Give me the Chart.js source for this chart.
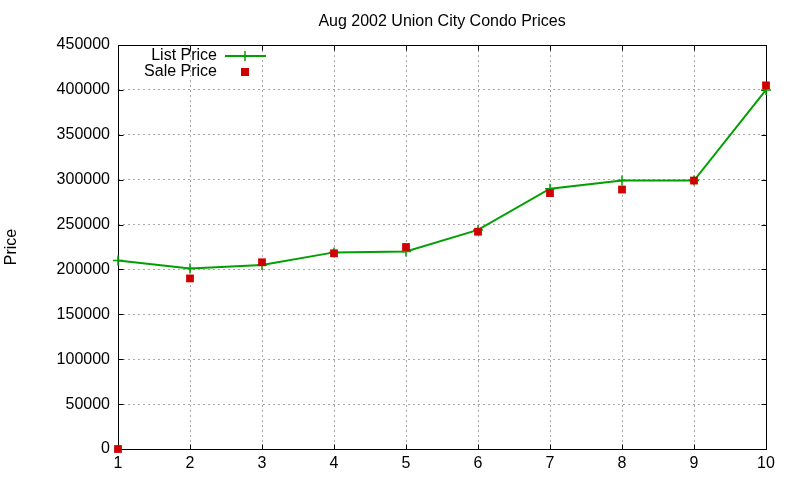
<!DOCTYPE html>
<html>
<head>
<meta charset="utf-8">
<script src="https://cdn.jsdelivr.net/npm/chart.js@4/dist/chart.umd.min.js"></script>
<style>
  html, body { margin: 0; padding: 0; background: #ffffff; }
  #wrap { width: 800px; height: 480px; }
</style>
</head>
<body>
<div id="wrap"><canvas id="c" width="800" height="480"></canvas></div>
<script>
// ---- data ----
const categories = [1, 2, 3, 4, 5, 6, 7, 8, 9, 10];
const listPrice = [210000, 201000, 205000, 219000, 220000, 244000, 290000, 299000, 299000, 400000];
const salePrice = [0, 190000, 208000, 218000, 225000, 242000, 285000, 289000, 299000, 405000];
const yTicks = [0, 50000, 100000, 150000, 200000, 250000, 300000, 350000, 400000, 450000];
const xTicks = [1, 2, 3, 4, 5, 6, 7, 8, 9, 10];
const chartTitle = 'Aug 2002 Union City Condo Prices';
const yTitle = 'Price';
const seriesNames = ['List Price', 'Sale Price'];

const FONT = "'Liberation Sans', Arial, sans-serif";
const GREEN = '#00a000';
const RED = '#d00000';

const framePlugin = {
  id: 'frame',
  beforeDatasetsDraw(chart) {
    const { ctx, chartArea: a, scales } = chart;
    ctx.save();
    ctx.strokeStyle = '#000';
    ctx.lineWidth = 1;
    const L = Math.round(a.left) + 0.5, R = Math.round(a.right) + 0.5;
    const T = Math.round(a.top) + 0.5, B = Math.round(a.bottom) + 0.5;
    ctx.strokeRect(L, T, R - L, B - T);
    const tl = 5;
    ctx.beginPath();
    yTicks.forEach(v => {
      const y = Math.round(scales.y.getPixelForValue(v)) + 0.5;
      ctx.moveTo(L, y); ctx.lineTo(L + tl, y);
      ctx.moveTo(R, y); ctx.lineTo(R - tl, y);
    });
    xTicks.forEach(v => {
      const x = Math.round(scales.x.getPixelForValue(v)) + 0.5;
      ctx.moveTo(x, B); ctx.lineTo(x, B - tl);
      ctx.moveTo(x, T); ctx.lineTo(x, T + tl);
    });
    ctx.stroke();
    ctx.restore();
  },
  afterDraw(chart) {
    const { ctx } = chart;
    const ds = chart.data.datasets;
    ctx.save();
    ctx.font = '16px ' + FONT;
    ctx.fillStyle = '#000';
    ctx.textAlign = 'right';
    ctx.textBaseline = 'middle';
    ctx.fillText(ds[0].label, 217, 56);
    ctx.fillText(ds[1].label, 217, 72);
    // list price sample
    ctx.strokeStyle = ds[0].borderColor;
    ctx.lineWidth = 2;
    ctx.beginPath();
    ctx.moveTo(225, 56); ctx.lineTo(266, 56);
    ctx.stroke();
    ctx.lineWidth = 1.5;
    ctx.beginPath();
    ctx.moveTo(245, 51); ctx.lineTo(245, 61);
    ctx.stroke();
    // sale price sample
    ctx.fillStyle = ds[1].backgroundColor;
    ctx.fillRect(241, 68, 8, 8);
    ctx.restore();
  }
};

new Chart(document.getElementById('c'), {
  type: 'line',
  data: {
    datasets: [
      {
        label: seriesNames[0],
        data: categories.map((c, i) => ({ x: c, y: listPrice[i] })),
        borderColor: GREEN,
        backgroundColor: GREEN,
        borderWidth: 2,
        pointStyle: 'cross',
        pointRadius: 5,
        pointBorderWidth: 1.5,
        pointHoverRadius: 5,
        tension: 0,
        fill: false,
        clip: false,
        order: 1
      },
      {
        label: seriesNames[1],
        data: categories.map((c, i) => ({ x: c, y: salePrice[i] })),
        showLine: false,
        borderColor: RED,
        backgroundColor: RED,
        pointStyle: 'rect',
        pointRadius: 5.5,
        pointBorderWidth: 0,
        pointHoverRadius: 5.5,
        clip: false,
        order: 0
      }
    ]
  },
  options: {
    responsive: false,
    animation: false,
    devicePixelRatio: 1,
    layout: { padding: { left: 0, right: 34, top: 0, bottom: 0 } },
    plugins: {
      legend: { display: false },
      tooltip: { enabled: false },
      title: {
        display: true,
        text: chartTitle,
        fullSize: false,
        color: '#000',
        font: { family: FONT, size: 16, weight: 'normal' },
        padding: { top: 11.5, bottom: 14.3 }
      }
    },
    scales: {
      x: {
        type: 'linear',
        min: 1,
        max: 10,
        afterFit(scale) { scale.height = 31; },
        afterBuildTicks(scale) { scale.ticks = xTicks.map(v => ({ value: v })); },
        ticks: {
          color: '#000',
          padding: 5,
          font: { family: FONT, size: 16 },
          callback: v => String(v)
        },
        grid: {
          color: '#a8a8a8',
          lineWidth: 1,
          drawTicks: false
        },
        border: { display: false, dash: [2, 3] }
      },
      y: {
        type: 'linear',
        min: 0,
        max: 450000,
        afterFit(scale) { scale.width = 118; },
        afterBuildTicks(scale) { scale.ticks = yTicks.map(v => ({ value: v })); },
        ticks: {
          color: '#000',
          padding: 8,
          font: { family: FONT, size: 16 },
          callback: v => String(v)
        },
        grid: {
          color: '#a8a8a8',
          lineWidth: 1,
          drawTicks: false
        },
        border: { display: false, dash: [2, 3] },
        title: {
          display: true,
          text: yTitle,
          color: '#000',
          font: { family: FONT, size: 16 },
          padding: { top: 2, bottom: 0 }
        }
      }
    }
  },
  plugins: [framePlugin]
});
</script>
</body>
</html>
